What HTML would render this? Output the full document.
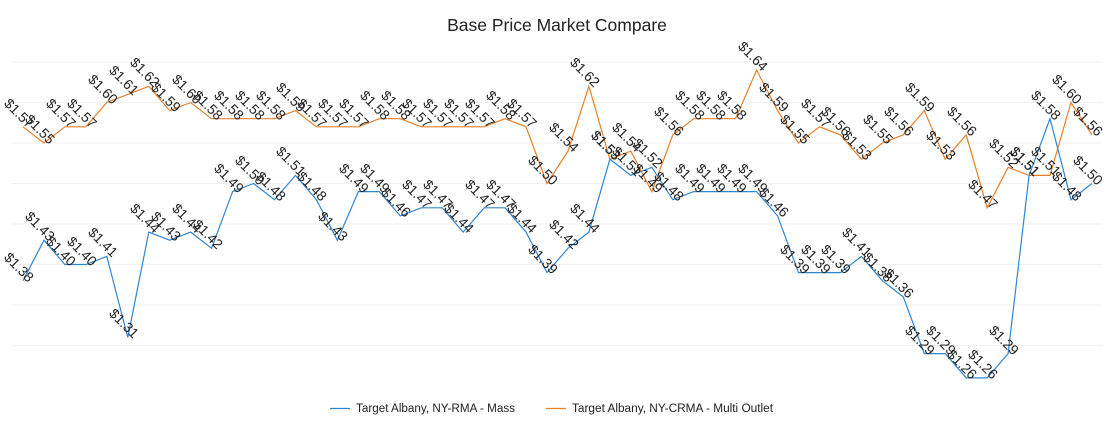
<!DOCTYPE html>
<html><head><meta charset="utf-8"><style>html,body{margin:0;padding:0;background:#fff}svg{display:block}</style></head>
<body>
<svg width="1114" height="424" viewBox="0 0 1114 424" xmlns="http://www.w3.org/2000/svg" font-family="Liberation Sans, sans-serif">
<text x="557" y="31" text-anchor="middle" font-size="17.5" fill="#222">Base Price Market Compare</text>
<g stroke="#f0f0f0" stroke-width="1">
<line x1="12" x2="1102" y1="62" y2="62"/><line x1="12" x2="1102" y1="102.5" y2="102.5"/><line x1="12" x2="1102" y1="143" y2="143"/><line x1="12" x2="1102" y1="183.5" y2="183.5"/><line x1="12" x2="1102" y1="224" y2="224"/><line x1="12" x2="1102" y1="264.5" y2="264.5"/><line x1="12" x2="1102" y1="305" y2="305"/><line x1="12" x2="1102" y1="345.5" y2="345.5"/>
</g>
<polyline fill="none" stroke="#e8802a" stroke-width="1.2" points="23,126.8 44,143 64.9,126.8 85.9,126.8 106.8,102.5 127.8,94.4 148.8,86.3 169.7,110.6 190.7,102.5 211.6,118.7 232.6,118.7 253.6,118.7 274.5,118.7 295.5,110.6 316.4,126.8 337.4,126.8 358.4,126.8 379.3,118.7 400.3,118.7 421.2,126.8 442.2,126.8 463.2,126.8 484.1,126.8 505.1,118.7 526,126.8 547,183.5 568,151.1 588.9,86.3 609.9,159.2 630.8,151.1 651.8,191.6 672.8,134.9 693.7,118.7 714.7,118.7 735.6,118.7 756.6,70.1 777.6,110.6 798.5,143 819.5,126.8 840.4,134.9 861.4,159.2 882.4,143 903.3,134.9 924.3,110.6 945.2,159.2 966.2,134.9 987.2,207.8 1008.1,167.3 1029.1,175.4 1050,175.4 1071,102.5 1092,134.9"/>
<polyline fill="none" stroke="#2f86d0" stroke-width="1.2" points="23,280.7 44,240.2 64.9,264.5 85.9,264.5 106.8,256.4 127.8,337.4 148.8,232.1 169.7,240.2 190.7,232.1 211.6,248.3 232.6,191.6 253.6,183.5 274.5,199.7 295.5,175.4 316.4,199.7 337.4,240.2 358.4,191.6 379.3,191.6 400.3,215.9 421.2,207.8 442.2,207.8 463.2,232.1 484.1,207.8 505.1,207.8 526,232.1 547,272.6 568,248.3 588.9,232.1 609.9,159.2 630.8,175.4 651.8,167.3 672.8,199.7 693.7,191.6 714.7,191.6 735.6,191.6 756.6,191.6 777.6,215.9 798.5,272.6 819.5,272.6 840.4,272.6 861.4,256.4 882.4,280.7 903.3,296.9 924.3,353.6 945.2,353.6 966.2,377.9 987.2,377.9 1008.1,353.6 1029.1,175.4 1050,118.7 1071,199.7 1092,183.5"/>
<g font-size="14" fill="#222" text-anchor="end">
<text transform="translate(28,129) rotate(45)">$1.57</text>
<text transform="translate(49,145) rotate(45)">$1.55</text>
<text transform="translate(70,129) rotate(45)">$1.57</text>
<text transform="translate(91,129) rotate(45)">$1.57</text>
<text transform="translate(112,105) rotate(45)">$1.60</text>
<text transform="translate(133,96) rotate(45)">$1.61</text>
<text transform="translate(154,88) rotate(45)">$1.62</text>
<text transform="translate(175,113) rotate(45)">$1.59</text>
<text transform="translate(196,105) rotate(45)">$1.60</text>
<text transform="translate(217,121) rotate(45)">$1.58</text>
<text transform="translate(238,121) rotate(45)">$1.58</text>
<text transform="translate(259,121) rotate(45)">$1.58</text>
<text transform="translate(280,121) rotate(45)">$1.58</text>
<text transform="translate(300,113) rotate(45)">$1.59</text>
<text transform="translate(321,129) rotate(45)">$1.57</text>
<text transform="translate(342,129) rotate(45)">$1.57</text>
<text transform="translate(363,129) rotate(45)">$1.57</text>
<text transform="translate(384,121) rotate(45)">$1.58</text>
<text transform="translate(405,121) rotate(45)">$1.58</text>
<text transform="translate(426,129) rotate(45)">$1.57</text>
<text transform="translate(447,129) rotate(45)">$1.57</text>
<text transform="translate(468,129) rotate(45)">$1.57</text>
<text transform="translate(489,129) rotate(45)">$1.57</text>
<text transform="translate(510,121) rotate(45)">$1.58</text>
<text transform="translate(531,129) rotate(45)">$1.57</text>
<text transform="translate(552,186) rotate(45)">$1.50</text>
<text transform="translate(573,153) rotate(45)">$1.54</text>
<text transform="translate(594,88) rotate(45)">$1.62</text>
<text transform="translate(615,161) rotate(45)">$1.53</text>
<text transform="translate(636,153) rotate(45)">$1.54</text>
<text transform="translate(657,194) rotate(45)">$1.49</text>
<text transform="translate(678,137) rotate(45)">$1.56</text>
<text transform="translate(699,121) rotate(45)">$1.58</text>
<text transform="translate(720,121) rotate(45)">$1.58</text>
<text transform="translate(741,121) rotate(45)">$1.58</text>
<text transform="translate(762,72) rotate(45)">$1.64</text>
<text transform="translate(783,113) rotate(45)">$1.59</text>
<text transform="translate(804,145) rotate(45)">$1.55</text>
<text transform="translate(825,129) rotate(45)">$1.57</text>
<text transform="translate(845,137) rotate(45)">$1.56</text>
<text transform="translate(866,161) rotate(45)">$1.53</text>
<text transform="translate(887,145) rotate(45)">$1.55</text>
<text transform="translate(908,137) rotate(45)">$1.56</text>
<text transform="translate(929,113) rotate(45)">$1.59</text>
<text transform="translate(950,161) rotate(45)">$1.53</text>
<text transform="translate(971,137) rotate(45)">$1.56</text>
<text transform="translate(992,210) rotate(45)">$1.47</text>
<text transform="translate(1013,169) rotate(45)">$1.52</text>
<text transform="translate(1034,177) rotate(45)">$1.51</text>
<text transform="translate(1055,177) rotate(45)">$1.51</text>
<text transform="translate(1076,105) rotate(45)">$1.60</text>
<text transform="translate(1097,137) rotate(45)">$1.56</text>

<text transform="translate(28,283) rotate(45)">$1.38</text>
<text transform="translate(49,242) rotate(45)">$1.43</text>
<text transform="translate(70,267) rotate(45)">$1.40</text>
<text transform="translate(91,267) rotate(45)">$1.40</text>
<text transform="translate(112,258) rotate(45)">$1.41</text>
<text transform="translate(133,339) rotate(45)">$1.31</text>
<text transform="translate(154,234) rotate(45)">$1.44</text>
<text transform="translate(175,242) rotate(45)">$1.43</text>
<text transform="translate(196,234) rotate(45)">$1.44</text>
<text transform="translate(217,250) rotate(45)">$1.42</text>
<text transform="translate(238,194) rotate(45)">$1.49</text>
<text transform="translate(259,186) rotate(45)">$1.50</text>
<text transform="translate(280,202) rotate(45)">$1.48</text>
<text transform="translate(300,177) rotate(45)">$1.51</text>
<text transform="translate(321,202) rotate(45)">$1.48</text>
<text transform="translate(342,242) rotate(45)">$1.43</text>
<text transform="translate(363,194) rotate(45)">$1.49</text>
<text transform="translate(384,194) rotate(45)">$1.49</text>
<text transform="translate(405,218) rotate(45)">$1.46</text>
<text transform="translate(426,210) rotate(45)">$1.47</text>
<text transform="translate(447,210) rotate(45)">$1.47</text>
<text transform="translate(468,234) rotate(45)">$1.44</text>
<text transform="translate(489,210) rotate(45)">$1.47</text>
<text transform="translate(510,210) rotate(45)">$1.47</text>
<text transform="translate(531,234) rotate(45)">$1.44</text>
<text transform="translate(552,275) rotate(45)">$1.39</text>
<text transform="translate(573,250) rotate(45)">$1.42</text>
<text transform="translate(594,234) rotate(45)">$1.44</text>
<text transform="translate(615,161) rotate(45)">$1.53</text>
<text transform="translate(636,177) rotate(45)">$1.51</text>
<text transform="translate(657,169) rotate(45)">$1.52</text>
<text transform="translate(678,202) rotate(45)">$1.48</text>
<text transform="translate(699,194) rotate(45)">$1.49</text>
<text transform="translate(720,194) rotate(45)">$1.49</text>
<text transform="translate(741,194) rotate(45)">$1.49</text>
<text transform="translate(762,194) rotate(45)">$1.49</text>
<text transform="translate(783,218) rotate(45)">$1.46</text>
<text transform="translate(804,275) rotate(45)">$1.39</text>
<text transform="translate(825,275) rotate(45)">$1.39</text>
<text transform="translate(845,275) rotate(45)">$1.39</text>
<text transform="translate(866,258) rotate(45)">$1.41</text>
<text transform="translate(887,283) rotate(45)">$1.38</text>
<text transform="translate(908,299) rotate(45)">$1.36</text>
<text transform="translate(929,356) rotate(45)">$1.29</text>
<text transform="translate(950,356) rotate(45)">$1.29</text>
<text transform="translate(971,380) rotate(45)">$1.26</text>
<text transform="translate(992,380) rotate(45)">$1.26</text>
<text transform="translate(1013,356) rotate(45)">$1.29</text>
<text transform="translate(1034,177) rotate(45)">$1.51</text>
<text transform="translate(1055,121) rotate(45)">$1.58</text>
<text transform="translate(1076,202) rotate(45)">$1.48</text>
<text transform="translate(1097,186) rotate(45)">$1.50</text>
</g>
<line x1="330" x2="350" y1="408.5" y2="408.5" stroke="#2f86d0" stroke-width="1.2"/>
<text x="356" y="412" font-size="11.5" fill="#222" textLength="159" lengthAdjust="spacingAndGlyphs">Target Albany, NY-RMA - Mass</text>
<line x1="546" x2="566" y1="408.5" y2="408.5" stroke="#e8802a" stroke-width="1.2"/>
<text x="572" y="412" font-size="11.5" fill="#222" textLength="201" lengthAdjust="spacingAndGlyphs">Target Albany, NY-CRMA - Multi Outlet</text>
</svg>
</body></html>
